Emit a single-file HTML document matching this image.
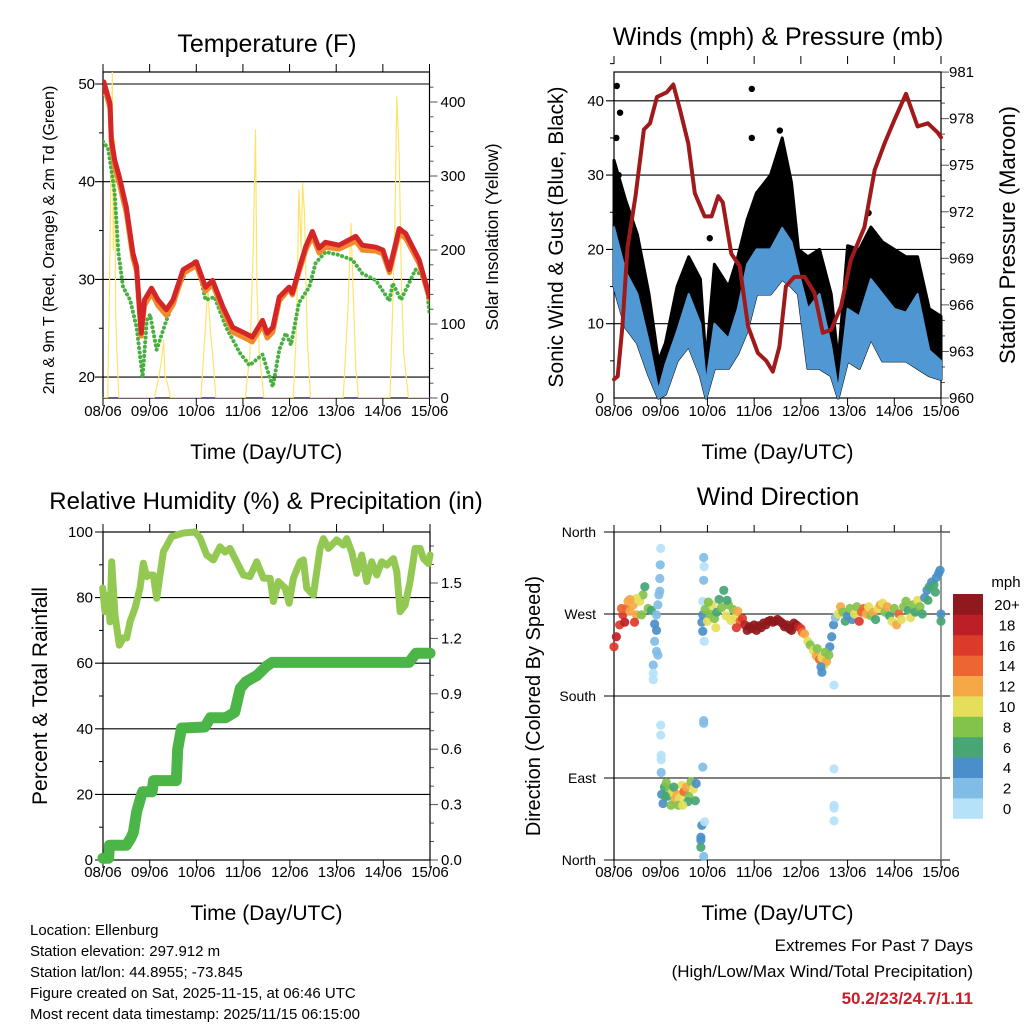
<!DOCTYPE html>
<html><head><meta charset="utf-8"><style>
html,body{margin:0;padding:0;background:#fff;}
svg{display:block;font-family:"Liberation Sans",sans-serif;}
</style></head><body>
<svg id="c" width="1024" height="1024" viewBox="0 0 1024 1024" xmlns="http://www.w3.org/2000/svg"></svg>
<script>
// ---------- DATA ----------
const dayLabels = ["08/06","09/06","10/06","11/06","12/06","13/06","14/06","15/06"];
// Temperature panel
const tDays  = [0,0.02,0.15,0.18,0.25,0.35,0.5,0.64,0.72,0.82,0.89,1.04,1.18,1.36,1.5,1.72,2.0,2.2,2.35,2.57,2.78,3.0,3.2,3.42,3.52,3.64,3.78,3.99,4.06,4.2,4.35,4.49,4.63,4.77,5.06,5.42,5.56,5.85,6.0,6.14,6.35,6.49,6.78,7.0];
const tRed   = [49.2,50.2,48,44.3,42.2,40.5,37.4,32.7,31.3,24.5,27.9,29.1,27.9,26.9,27.9,31,31.8,29.2,29.9,27.2,25.1,24.6,24.1,25.8,24.5,25.1,28.2,29.2,28.6,31,33.4,34.9,33.2,33.8,33.5,34.4,33.5,33.3,33,31,35.2,34.7,32,28.2];
const tOrange= [49,49.8,47.5,43.8,41.5,39.8,36.8,32.2,30.8,24.2,27.3,28.6,27.3,26.3,27.4,30.6,31.4,28.8,29.5,26.8,24.6,24.1,23.6,25.3,24,24.6,27.8,29,28.4,30.7,33,34.4,32.7,33.3,33.1,33.9,33,32.9,32.6,30.7,34.7,34.2,31.6,28];
const tdDays = [0,0.11,0.18,0.25,0.33,0.43,0.58,0.72,0.85,0.94,1.01,1.15,1.36,1.58,1.79,2.0,2.2,2.39,2.64,2.93,3.14,3.42,3.64,3.78,3.92,4.03,4.2,4.42,4.56,4.77,5.06,5.35,5.56,5.85,6.14,6.21,6.39,6.7,6.92,7.0];
const tdGreen= [44.1,43.4,41.2,38.8,32.7,29.2,27.9,25.1,20,25.8,26.4,22.8,25.8,28.6,31,32,27.9,28.2,25.1,22.5,21.2,22.3,19,22.8,24.5,23.3,27.6,29.2,31.7,32.8,32.5,32,30.6,29.9,27.8,29.6,27.9,31,29.9,26.6];
const solDays= [0,0.1,0.14,0.17,0.2,0.22,0.25,0.27,0.3,0.34,1.1,1.2,1.25,1.3,1.33,1.38,1.45,2.1,2.2,2.25,2.3,2.35,2.42,3.05,3.15,3.22,3.27,3.3,3.35,3.45,4.08,4.15,4.2,4.25,4.28,4.32,4.38,4.45,5.15,5.25,5.32,5.36,5.42,5.48,6.15,6.25,6.3,6.35,6.4,6.45,6.55,7.0];
const solVals= [0,0,150,300,440,200,350,120,60,0,0,30,50,78,30,20,0,0,100,150,90,60,0,0,60,200,362,150,60,0,0,100,281,200,290,250,80,0,0,120,236,150,40,0,0,200,407,326,150,60,0,0];
// Winds panel
const wDays   = [0,0.25,0.5,0.75,0.95,1.1,1.35,1.6,1.85,1.97,2.15,2.45,2.65,2.85,3.05,3.35,3.6,3.8,3.95,4.15,4.4,4.65,4.8,5.0,5.25,5.5,5.75,6.0,6.25,6.5,6.75,7.0];
const gustHi  = [32,26.6,22,14,5,7.4,15,19,16,5,18,15,19,24,27.6,30,35,29,20,19,20,14,5,20.5,20,23,21,20,19,19,12,11];
const windHi  = [23,17,14,7.4,1,4.5,9,14,10,2,10,8,12,18,20,20,22.9,21,17,12,14,7,1,12,11,16,14,12,11.5,14,6.4,5];
const windLo  = [15,9.5,7.4,3,0,0.5,5,7,3,0,4,4,6,9,14,14,16,15,14,4,4,3,0,5,4,8,5,5,5,4,3,2.5];
const gustOutDays = [0.06,0.13,0.05,2.95,2.95,2.05,5.45,0.1,3.55];
const gustOutVals = [42,38.4,35,41.6,35,21.5,24.9,30,36];
const pDays = [0,0.08,0.18,0.29,0.46,0.64,0.77,0.92,1.13,1.27,1.41,1.59,1.73,1.94,2.09,2.23,2.33,2.51,2.69,2.87,3.08,3.26,3.4,3.54,3.68,3.86,4.08,4.29,4.47,4.65,4.86,5.07,5.36,5.58,5.79,6.0,6.25,6.5,6.72,6.93,7.0];
const pVals = [961.2,961.4,964.6,969.7,973,977.3,977.7,979.4,979.7,980.2,978.6,976.4,973.2,971.7,971.7,973,972.6,969.3,968.5,964.6,962.9,962.4,961.7,963.3,967.2,967.8,967.8,966.8,964.2,964.4,965.9,968.9,971,974.7,976.4,977.9,979.6,977.5,977.7,977.1,976.8];
// RH panel
const rhXz = [38,45,55,60,65,75,88,100,110,120,135,150,160,170,180,190,200,210,220,245,280,315,330,350,370,390,405,420,440,460,480,500,520,540,550,565,585,597,610,630,640,650,670,690,700,715,740,760,770,785,800,815,830,845,860,875,890,910,920,930,945,960,975,990,1000,1015,1020];
const rhVals = [82.9,75.7,80.8,72.6,90.9,74.7,65.5,67.7,67.7,72.6,76.8,82.9,90.5,86.4,86.9,86.9,79.8,86.9,94,98.6,99.7,100,98.2,93,91.5,95.5,93.9,95,90.9,86.9,86.4,90.9,85.9,85.9,78.8,84.9,82.9,78.3,85.9,90.9,91.5,82.9,80.8,95,98,95,97.6,96,98,93.9,87.4,93,84.9,90.9,86.9,90.9,89.9,91.9,87.9,75.7,77.7,84.9,95,95,91.9,90.4,93];
const prDays = [0,0.12,0.14,0.35,0.5,0.6,0.65,0.72,0.82,0.85,1.05,1.08,1.57,1.6,1.68,1.73,2.18,2.3,2.55,2.62,2.82,2.94,3.06,3.3,3.5,3.62,6.55,6.7,7.0];
const prVals = [0.01,0.01,0.08,0.08,0.08,0.12,0.15,0.26,0.35,0.37,0.37,0.43,0.43,0.6,0.715,0.715,0.72,0.77,0.77,0.77,0.8,0.93,0.965,1.0,1.05,1.07,1.07,1.12,1.12];
// Wind direction panel: [day, degrees, mph]
const dirPts = [
[0,234,17],[0.05,245,18],[0.12,258,17],[0.19,269,16],[0.26,276,15],[0.34,273,13],[0.41,280,12],[0.48,269,12],[0.55,284,10],[0.62,291,8],[0.66,300,7],[0.73,276,9],[0.8,274,6],[0.16,276,15],[0.3,284,12],[0.48,287,11],[0.59,269,8],[0.23,261,18],[0.44,261,16],[0.34,286,12],
[0.84,214,3],[0.84,198,1],[0.84,205,1],[0.87,240,3],[0.91,252,4],[0.91,269,3],[0.94,225,3],[0.94,280,2],[0.98,295,3],[0.98,309,2],[0.99,324,3],[1.0,342,1],[0.96,291,3],[0.91,229,3],[0.87,259,4],
[1.0,148,1],[1.0,137,1],[1.01,115,1],[1.01,110,1],[1.01,96,2],
[1.02,72,5],[1.05,62,4],[1.08,80,6],[1.12,85,8],[1.15,70,7],[1.2,78,9],[1.25,74,10],[1.3,66,12],[1.35,72,13],[1.4,68,11],[1.45,82,10],[1.5,75,14],[1.55,80,12],[1.6,70,9],[1.65,86,8],[1.7,78,10],[1.74,65,6],[1.76,84,5],[1.28,80,7],[1.38,60,8],[1.1,70,7],[1.58,64,7],[1.47,60,10],[1.22,60,8],
[1.88,38,4],[1.86,25,4],[1.86,22,4],[1.86,14,6],[1.92,4,2],[1.94,42,1],[1.9,102,3],[1.92,153,2],[1.92,150,2],[1.92,332,3],[1.93,322,1],[1.92,307,3],[1.9,284,1],[1.9,269,4],[1.9,251,4],[1.93,240,1],[1.88,261,4],
[1.95,275,8],[2.0,262,10],[2.05,270,9],[2.1,280,10],[2.15,265,8],[2.2,272,6],[2.25,286,7],[2.3,277,9],[2.35,296,6],[2.4,268,10],[2.45,280,8],[2.5,263,11],[2.55,275,8],[2.6,266,10],[2.65,273,12],[2.7,262,14],[2.02,283,9],[2.18,255,10],[2.42,285,6],[2.62,255,16],[2.75,265,16],
[2.8,258,18],[2.85,252,20],[2.9,256,22],[2.95,254,21],[3.0,258,22],[3.05,252,20],[3.1,257,21],[3.15,255,22],[3.2,260,21],[3.25,258,22],[3.3,262,21],[3.35,263,22],[3.4,261,20],[3.45,262,22],[3.5,264,21],[3.55,262,22],[3.6,260,20],[3.65,256,21],[3.7,258,20],[3.75,254,21],[3.8,252,20],[3.85,260,20],[3.9,258,21],[3.95,256,18],[4.0,254,17],[4.03,250,15],
[4.08,248,13],[4.15,240,10],[4.2,236,8],[4.27,230,10],[4.33,224,12],[4.4,220,14],[4.45,222,11],[4.5,214,10],[4.55,218,12],[4.6,225,8],[4.43,212,4],[4.45,206,4],[4.62,234,4],[4.66,245,4],[4.7,258,4],[4.74,266,3],[4.35,232,8],[4.52,228,9],
[4.71,192,1],[4.71,100,1],[4.71,60,1],[4.71,57,1],[4.71,43,1],
[4.8,270,10],[4.85,278,12],[4.9,272,8],[4.95,262,6],[5.0,268,4],[5.05,276,8],[5.1,264,5],[5.15,270,10],[5.2,278,8],[5.25,262,16],[5.3,272,14],[5.35,276,14],[5.4,270,12],[5.45,278,10],[5.5,268,8],[5.55,272,12],[5.6,264,6],[5.65,276,10],[5.7,280,12],[5.75,282,10],[5.8,272,8],[5.85,278,12],[5.9,268,6],[5.95,262,10],[6.0,276,8],[6.05,258,12],[6.1,270,14],[6.15,264,10],[6.2,278,8],[6.25,284,8],[6.3,274,6],[6.35,266,10],[6.4,280,8],[6.45,272,6],[6.5,285,10],[6.55,278,8],[6.6,270,7],
[6.65,288,5],[6.7,296,4],[6.75,300,6],[6.8,305,5],[6.85,302,6],[6.9,310,4],[6.95,315,5],[6.98,318,4],[6.72,285,6],[6.88,294,6],[7.0,270,5],[7.0,262,6]
];
const speedColors = ["#b5e2f8","#80bde6","#4a8fc9","#47a674","#83c24b","#e5de5a","#f6a746","#ec6532","#dc3a2b","#bc1f26","#8f191c"];
const speedLabels = ["0","2","4","6","8","10","12","14","16","18","20+"];

// ---------- HELPERS ----------
const NS = "http://www.w3.org/2000/svg";
const svg = document.getElementById('c');
function el(tag, attrs, name, parent) {
  const e = document.createElementNS(NS, tag);
  for (const k in attrs) e.setAttribute(k, attrs[k]);
  
  
  (parent || svg).appendChild(e);
  return e;
}
function txt(x, y, s, size, anchor, name, extra, parent) {
  const a = {x:x, y:y, 'font-size':size, 'text-anchor':anchor||'start', fill:'#000'};
  if (extra) for (const k in extra) a[k] = extra[k];
  const t = el('text', a, name, parent);
  t.textContent = s;
  return t;
}
function vtxt(x, y, s, size, name) {
  return txt(x, y, s, size, 'middle', name, {transform:'rotate(-90 '+x+' '+y+')'});
}
function poly(pts, attrs, name, parent) {
  const a = Object.assign({points: pts.map(p => p[0].toFixed(1)+','+p[1].toFixed(1)).join(' '), fill:'none', 'stroke-linejoin':'round','stroke-linecap':'round'}, attrs);
  return el('polyline', a, name, parent);
}
function mkX(x0, x1) { return d => x0 + d * (x1 - x0) / 7; }

function frame(P, pname) {
  const g = el('g', {}, pname);
  for (let i = 0; i < 8; i++) {
    const x = P.xs(i);
    el('line', {x1:x, y1:P.bottom, x2:x, y2:P.bottom+8, stroke:'#000','stroke-width':1}, 'x-tick', g);
    if (P.topTicks) el('line', {x1:x, y1:P.top, x2:x, y2:P.top-8, stroke:'#000','stroke-width':1}, 'x-top-tick', g);
    txt(x, P.bottom+P.lblOff, dayLabels[i], 15, 'middle', 'x-tick-label', null, g);
  }
  txt((P.x0+P.x1)/2, P.bottom+P.ttlOff, 'Time (Day/UTC)', 21, 'middle', 'x-axis-title', null, g);
  return g;
}

// ---------- PANEL 1: TEMPERATURE ----------
(function(){
  const P = {x0:103, x1:429.5, top:72, bottom:398, topTicks:true, lblOff:18, ttlOff:61};
  P.xs = mkX(P.x0, P.x1);
  const yL = v => 84 + (50 - v) * 9.77;
  const yR = v => 398 - v * 0.74;
  const g = frame(P, 'temperature-panel');
  txt(267, 52, 'Temperature (F)', 25, 'middle', 'temperature-title', null, g);
  for (let v = 20; v <= 50; v += 10) {
    el('line', {x1:P.x0-8, y1:yL(v), x2:P.x1, y2:yL(v), stroke:'#000','stroke-width':1.1}, 'temp-gridline', g);
    txt(P.x0-8, yL(v)+5, String(v), 15, 'end', 'temp-y-tick-label', null, g);
  }
  for (let v = 25; v <= 45; v += 10) el('line', {x1:P.x0-4, y1:yL(v), x2:P.x0, y2:yL(v), stroke:'#000'}, 'temp-minor-tick', g);
  for (let v = 0; v <= 430; v += 20) {
    const major = v % 100 === 0;
    el('line', {x1:P.x1, y1:yR(v), x2:P.x1+(major?8:4), y2:yR(v), stroke:'#555'}, 'solar-tick', g);
    if (major) txt(P.x1+11, yR(v)+5, String(v), 15, 'start', 'solar-tick-label', null, g);
  }
  el('rect', {x:P.x0, y:P.top, width:P.x1-P.x0, height:P.bottom-P.top, fill:'none', stroke:'#000','stroke-width':1.2}, 'temp-plot-frame', g);
  const cl = el('clipPath', {id:'clipT'}, 'temp-clip', g);
  el('rect', {x:P.x0, y:P.top, width:P.x1-P.x0, height:P.bottom-P.top}, 'temp-clip-rect', cl);
  const dg = el('g', {'clip-path':'url(#clipT)'}, 'temp-series', g);
  poly(solDays.map((d,i)=>[P.xs(d), yR(solVals[i])]), {stroke:'#fde36a','stroke-width':1.2}, 'solar-line', dg);
  poly(tdDays.map((d,i)=>[P.xs(d), yL(tdGreen[i])]), {stroke:'#48b042','stroke-width':4,'stroke-dasharray':'0.1 4.5'}, 'dewpoint-line', dg);
  poly(tDays.map((d,i)=>[P.xs(d), yL(tOrange[i])]), {stroke:'#f08a2c','stroke-width':5}, 'temp-9m-line', dg);
  poly(tDays.map((d,i)=>[P.xs(d), yL(tRed[i])]), {stroke:'#d42628','stroke-width':5}, 'temp-2m-line', dg);
  vtxt(54, 240, '2m & 9m T (Red, Orange) & 2m Td (Green)', 16, 'temp-y-axis-title');
  vtxt(498, 237, 'Solar Insolation (Yellow)', 17.5, 'solar-y-axis-title');
})();

// ---------- PANEL 2: WINDS ----------
(function(){
  const P = {x0:614, x1:941, top:64, bottom:398, topTicks:true, lblOff:18, ttlOff:61};
  P.xs = mkX(P.x0, P.x1);
  const yL = v => 398 - v * 7.43;
  const yR = v => 398 - (v - 960) * 15.52;
  const g = frame(P, 'winds-panel');
  txt(778, 45, 'Winds (mph) & Pressure (mb)', 25, 'middle', 'winds-title', null, g);
  for (let v = 0; v <= 40; v += 10) {
    if (v > 0) el('line', {x1:P.x0-8, y1:yL(v), x2:P.x1, y2:yL(v), stroke:'#000','stroke-width':1.1}, 'wind-gridline', g);
    txt(P.x0-10, yL(v)+5, String(v), 15, 'end', 'wind-y-tick-label', null, g);
  }
  for (let v = 5; v <= 45; v += 10) el('line', {x1:P.x0-4, y1:yL(v), x2:P.x0, y2:yL(v), stroke:'#000'}, 'wind-minor-tick', g);
  for (let v = 960; v <= 981; v += 1) {
    const major = (v - 960) % 3 === 0;
    el('line', {x1:P.x1, y1:yR(v), x2:P.x1+(major?8:4), y2:yR(v), stroke:'#555'}, 'pressure-tick', g);
    if (major) txt(P.x1+8, yR(v)+5, String(v), 15, 'start', 'pressure-tick-label', null, g);
  }
  el('rect', {x:P.x0, y:P.top+8, width:P.x1-P.x0, height:P.bottom-P.top-8, fill:'none', stroke:'#000','stroke-width':1.2}, 'winds-plot-frame', g);
  const gustPoly = wDays.map((d,i)=>[P.xs(d), yL(gustHi[i])]).concat(wDays.map((d,i)=>[P.xs(d), yL(windLo[i])]).reverse());
  el('polygon', {points: gustPoly.map(p=>p[0].toFixed(1)+','+p[1].toFixed(1)).join(' '), fill:'#000', stroke:'#000','stroke-width':3,'stroke-linejoin':'round'}, 'gust-points-band', g);
  gustOutDays.forEach((d,i)=>{
    el('circle', {cx:P.xs(d), cy:yL(gustOutVals[i]), r:3.2, fill:'#000'}, 'gust-outlier-point', g);
  });
  const windPoly = wDays.map((d,i)=>[P.xs(d), yL(windHi[i])]).concat(wDays.map((d,i)=>[P.xs(d), yL(windLo[i])]).reverse());
  el('polygon', {points: windPoly.map(p=>p[0].toFixed(1)+','+p[1].toFixed(1)).join(' '), fill:'#5098d3', stroke:'#5098d3','stroke-width':2,'stroke-linejoin':'round'}, 'sustained-wind-band', g);
  poly(pDays.map((d,i)=>[P.xs(d), yR(pVals[i])]), {stroke:'#a01a1c','stroke-width':4}, 'pressure-line', g);
  vtxt(563, 237, 'Sonic Wind & Gust (Blue, Black)', 21, 'wind-y-axis-title');
  vtxt(1015, 235, 'Station Pressure (Maroon)', 22, 'pressure-y-axis-title');
})();

// ---------- PANEL 3: RH & PRECIP ----------
(function(){
  const P = {x0:103, x1:430, top:532, bottom:860, topTicks:true, lblOff:17, ttlOff:60};
  P.xs = mkX(P.x0, P.x1);
  const yL = v => 860 - v * 3.28;
  const yR = v => 860 - v * 184.67;
  const g = frame(P, 'humidity-panel');
  txt(266, 509, 'Relative Humidity (%) & Precipitation (in)', 24, 'middle', 'humidity-title', null, g);
  for (let v = 0; v <= 100; v += 20) {
    if (v > 0 && v < 100) el('line', {x1:P.x0-8, y1:yL(v), x2:P.x1, y2:yL(v), stroke:'#000','stroke-width':1.1}, 'rh-gridline', g);
    else el('line', {x1:P.x0-8, y1:yL(v), x2:P.x0, y2:yL(v), stroke:'#000'}, 'rh-tick', g);
    txt(P.x0-10, yL(v)+5, String(v), 15, 'end', 'rh-y-tick-label', null, g);
  }
  for (let v = 10; v <= 90; v += 20) el('line', {x1:P.x0-4, y1:yL(v), x2:P.x0, y2:yL(v), stroke:'#000'}, 'rh-minor-tick', g);
  for (let k = 0; k <= 17; k++) {
    const v = k * 0.1;
    const major = k % 3 === 0;
    el('line', {x1:P.x1, y1:yR(v), x2:P.x1+(major?8:4), y2:yR(v), stroke:'#555'}, 'precip-tick', g);
    if (major) txt(P.x1+11, yR(v)+5, v.toFixed(1), 15, 'start', 'precip-tick-label', null, g);
  }
  el('rect', {x:P.x0, y:P.top, width:P.x1-P.x0, height:P.bottom-P.top, fill:'none', stroke:'#000','stroke-width':1.2}, 'rh-plot-frame', g);
  poly(rhXz.map((xz,i)=>[P.xs((xz/3 - 13)/46.7), yL(rhVals[i])]), {stroke:'#93c953','stroke-width':7}, 'rh-line', g);
  poly(prDays.map((d,i)=>[P.xs(d), yR(prVals[i])]), {stroke:'#4cb548','stroke-width':11}, 'precip-line', g);
  vtxt(47, 696, 'Percent & Total Rainfall', 21, 'rh-y-axis-title');
})();

// ---------- PANEL 4: WIND DIRECTION ----------
(function(){
  const P = {x0:614, x1:941, top:532, bottom:860, topTicks:false, lblOff:17, ttlOff:60};
  P.xs = mkX(P.x0, P.x1);
  const yD = v => 860 - v * 328 / 360;
  const g = frame(P, 'wind-direction-panel');
  txt(778, 505, 'Wind Direction', 25, 'middle', 'wind-direction-title', null, g);
  const dirNames = ["North","East","South","West","North"];
  for (let k = 0; k < 5; k++) {
    const y = yD(k * 90);
    el('line', {x1:P.x0-10, y1:y, x2:P.x1+9, y2:y, stroke:'#000','stroke-width':1.1}, 'direction-gridline', g);
    txt(596, y+5, dirNames[k], 14, 'end', 'direction-tick-label', null, g);
  }
  for (let i = 0; i < 8; i++) el('line', {x1:P.xs(i), y1:P.top, x2:P.xs(i), y2:P.top-7, stroke:'#000'}, 'dir-top-tick', g);
  el('line', {x1:P.x0, y1:P.top, x2:P.x0, y2:P.bottom, stroke:'#000','stroke-width':1.2}, 'dir-left-axis', g);
  el('line', {x1:P.x1, y1:P.top, x2:P.x1, y2:P.bottom, stroke:'#777','stroke-width':1.5}, 'dir-right-axis', g);
  dirPts.forEach(p=>{
    const bin = Math.max(0, Math.min(10, Math.floor(p[2] / 2)));
    el('circle', {cx:P.xs(p[0]), cy:yD(p[1]), r:4.6, fill:speedColors[bin], 'fill-opacity':0.92}, 'direction-point', g);
  });
  const cb = el('g', {}, 'speed-colorbar', g);
  txt(1006, 587, 'mph', 15, 'middle', 'colorbar-title', null, cb);
  for (let k = 0; k < 11; k++) {
    const y = 594 + (10 - k) * 20.4;
    el('rect', {x:953, y:y, width:30, height:20.8, fill:speedColors[k]}, 'colorbar-box', cb);
    txt(1007, y + 16, speedLabels[k], 15, 'middle', 'colorbar-label', null, cb);
  }
  vtxt(540, 706, 'Direction (Colored By Speed)', 20, 'direction-y-axis-title');
})();

// ---------- FOOTER ----------
const info = ["Location: Ellenburg","Station elevation: 297.912 m","Station lat/lon: 44.8955; -73.845","Figure created on Sat, 2025-11-15, at 06:46 UTC","Most recent data timestamp: 2025/11/15 06:15:00"];
info.forEach((s,i)=>{ txt(30, 935 + i*21, s, 15, 'start', 'station-info-line'); });
txt(973, 951, 'Extremes For Past 7 Days', 17, 'end', 'extremes-title');
txt(973, 977, '(High/Low/Max Wind/Total Precipitation)', 17, 'end', 'extremes-subtitle');
txt(973, 1004, '50.2/23/24.7/1.11', 17, 'end', 'extremes-values', {fill:'#c8202a','font-weight':'bold'});
</script>
</body></html>
